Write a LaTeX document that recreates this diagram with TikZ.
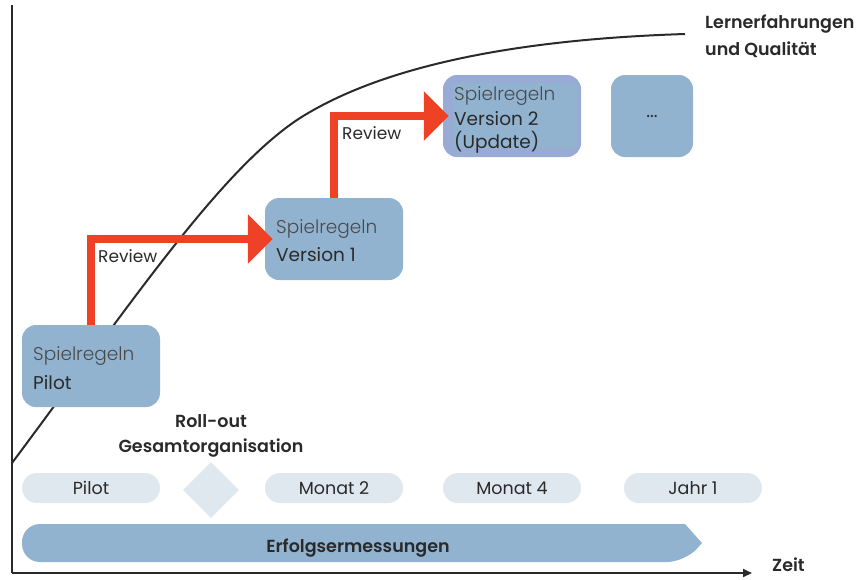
\documentclass[tikz,border=0pt]{standalone}
\usepackage{fontspec}
\setmainfont{Poppins}
\newfontfamily\lightfont{Poppins Light}
\newfontfamily\semifont{Poppins SemiBold}
\usetikzlibrary{arrows.meta,shapes.geometric,calc}
\definecolor{boxblue}{HTML}{92B3CF}
\definecolor{lavender}{HTML}{97ABD5}
\definecolor{pillgray}{HTML}{DFE7EF}
\definecolor{redarr}{HTML}{EF4126}
\definecolor{txt}{HTML}{2A2A2A}
\tikzset{
  x=1pt, y=-1pt,
  bigbox/.style={fill=boxblue, rounded corners=14pt, minimum width=138pt, minimum height=82pt, inner sep=0pt},
  pill/.style={fill=pillgray, rounded corners=15pt, minimum width=138pt, minimum height=30pt, inner sep=0pt, text=txt, font=\fontsize{17.5}{20}\selectfont},
  lighttext/.style={anchor=base west, inner sep=0pt, text=txt!85, font=\lightfont\fontsize{18.5}{22}\selectfont},
  regtext/.style={anchor=base west, inner sep=0pt, text=txt, font=\fontsize{18.5}{22}\selectfont},
  boldlabel/.style={inner sep=0pt, text=txt, font=\semifont\fontsize{17.5}{26}\selectfont},
  revlabel/.style={anchor=base west, inner sep=0pt, text=txt, font=\fontsize{17}{20}\selectfont},
  redarrow/.style={draw=redarr, line width=8pt, -{Triangle[length=25pt,width=48pt]}},
  axis/.style={draw=txt, line width=2pt},
}
\begin{document}
\begin{tikzpicture}
\useasboundingbox (0,0) rectangle (863,579);
% curve
\draw[txt, line width=2pt] (12,463) .. controls (130,305) and (220,170) .. (300,118) .. controls (400,55) and (560,38) .. (685,34);
% axes
\coordinate (origin) at (12,573);
\coordinate (ytop) at (12,5);
\coordinate (xend) at (752,573);
\draw[axis] (ytop) -- (origin);
\draw[axis, -{Triangle[length=9pt,width=8pt]}] (origin) -- (xend);
\node[boldlabel, anchor=base west] (zeit) at (772,571) {Zeit};
\node[boldlabel, anchor=base west] (lern1) at (705,28) {Lernerfahrungen};
\node[boldlabel, anchor=base west] (lern2) at (705,55) {und Qualität};
% boxes
\node[bigbox] (pilot) at (91,366) {};
\node[lighttext] at (33,360) {Spielregeln};
\node[regtext] at (33,389) {Pilot};
\node[bigbox] (v1) at (334,239) {};
\node[lighttext] at (276,233) {Spielregeln};
\node[regtext] at (276,261) {Version 1};
\node[bigbox, fill=lavender] (v2) at (512,116) {};
\fill[boxblue] (453,83) rectangle (577,148);
\node[lighttext] at (454,100) {Spielregeln};
\node[regtext] at (454,125) {Version 2};
\node[regtext] at (454,148) {(Update)};
\node[bigbox, minimum width=82pt, text=txt, font=\fontsize{18}{22}\selectfont] (more) at (652,116) {...};
% red arrows
\draw[redarrow] (pilot.north) |- ([xshift=8pt]v1.west);
\draw[redarrow] (v1.north) |- ([xshift=6pt]v2.west);
\node[revlabel] at (98,262) {Review};
\node[revlabel] at (342,139) {Review};
% timeline
\node[boldlabel, anchor=base] (rollout1) at (211,427) {Roll-out};
\node[boldlabel, anchor=base] (rollout2) at (211,452) {Gesamtorganisation};
\node[pill] (p1) at (91,488) {Pilot};
\node[diamond, fill=pillgray, minimum width=56pt, minimum height=56pt, inner sep=0pt] (dia) at (211,490) {};
\node[pill] (p2) at (334,488) {Monat 2};
\node[pill] (p3) at (512,488) {Monat 4};
\node[pill] (p4) at (693,488) {Jahr 1};
% Erfolgsmessung bar
\fill[boxblue, rounded corners=18pt] (685,524) -- (22,524) -- (22,562) -- (685,562) [sharp corners] -- (702,543) -- cycle;
\node[boldlabel, anchor=base] (erf) at (358,552) {Erfolgsermessungen};
\end{tikzpicture}
\end{document}
